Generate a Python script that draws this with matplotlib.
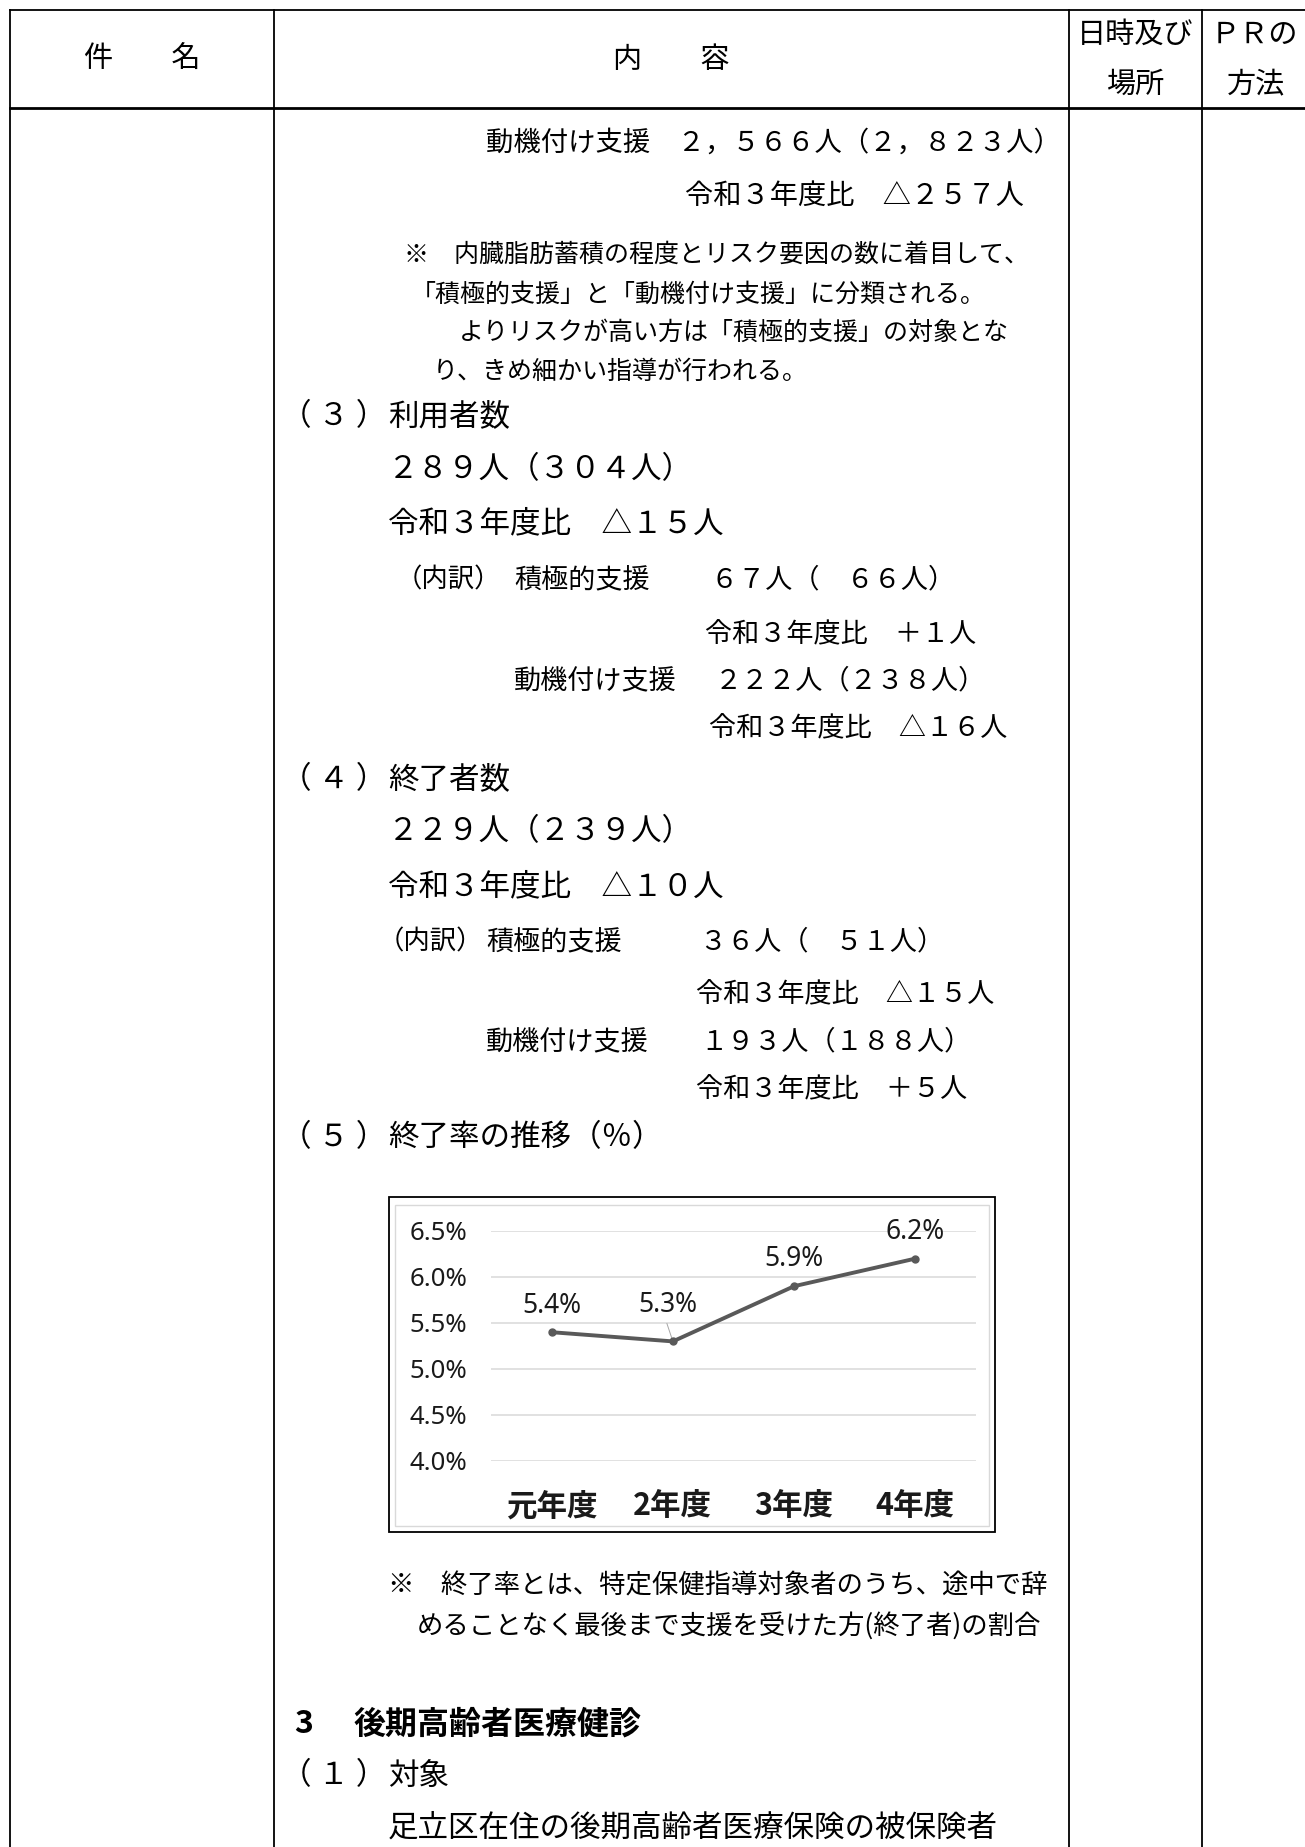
import matplotlib
matplotlib.use("Agg")
import matplotlib.pyplot as plt
from matplotlib.patches import Rectangle

plt.rcParams['font.family'] = ['Noto Sans CJK JP', 'DejaVu Sans']

# ---- chart data ----
categories = ['元年度', '2年度', '3年度', '4年度']
rates = [5.4, 5.3, 5.9, 6.2]
rate_labels = ['5.4%', '5.3%', '5.9%', '6.2%']
yticks = [4.0, 4.5, 5.0, 5.5, 6.0, 6.5]
ytick_labels = ['4.0%', '4.5%', '5.0%', '5.5%', '6.0%', '6.5%']

# ---- header texts ----
header_name = '件　　名'
header_content = '内　　容'
header_date = ['日時及び', '場所']
header_pr = ['ＰＲの', '方法']

W, H = 1305, 1847
fig = plt.figure(figsize=(W / 100, H / 100), dpi=100)
bg = fig.add_axes([0, 0, 1, 1])
bg.set_xlim(0, W)
bg.set_ylim(H, 0)
bg.axis('off')

# ---- table lines ----
lc = 'black'
bg.plot([10, W + 5], [10, 10], color=lc, lw=1.3)
bg.plot([10, W + 5], [108, 108], color=lc, lw=2.0)
for x in [10, 274, 1069, 1202]:
    bg.plot([x, x], [10, H + 5], color=lc, lw=1.3)

# ---- header ----
bg.text(142, 60, header_name, fontsize=21, ha='center', va='center')
bg.text(671, 60, header_content, fontsize=21, ha='center', va='center')
bg.text(1135, 35, header_date[0], fontsize=21, ha='center', va='center')
bg.text(1135, 85, header_date[1], fontsize=21, ha='center', va='center')
bg.text(1254, 35, header_pr[0], fontsize=21, ha='center', va='center')
bg.text(1256, 85, header_pr[1], fontsize=21, ha='center', va='center')

# ---- body text ----
def t(x, y, s, size, **kw):
    bg.text(x, y, s, fontsize=size, ha='left', va='center', **kw)

t(486, 143, '動機付け支援　２，５６６人（２，８２３人）', 19.7)
t(685, 196, '令和３年度比　△２５７人', 20.3)
t(404, 255, '※　内臓脂肪蓄積の程度とリスク要因の数に着目して、', 18)
t(411, 295, '「積極的支援」と「動機付け支援」に分類される。', 18)
t(459, 333, 'よりリスクが高い方は「積極的支援」の対象とな', 18)
t(433, 372, 'り、きめ細かい指導が行われる。', 18)

t(281, 417, '（ ３ ）', 22)
t(388, 417, '利用者数', 22)
t(388, 470, '２８９人（３０４人）', 22)
t(388, 524, '令和３年度比　△１５人', 22)
t(396, 580, '（内訳）', 19)
t(514, 580, '積極的支援', 19.5)
t(711, 580, '６７人（　６６人）', 19.5)
t(705, 635, '令和３年度比　＋１人', 19.5)
t(514, 681, '動機付け支援', 19.5)
t(715, 681, '２２２人（２３８人）', 19.5)
t(709, 729, '令和３年度比　△１６人', 19.5)

t(281, 780, '（ ４ ）', 22)
t(388, 780, '終了者数', 22)
t(388, 832, '２２９人（２３９人）', 22)
t(388, 887, '令和３年度比　△１０人', 22)
t(378, 942, '（内訳）', 19)
t(486, 942, '積極的支援', 19.5)
t(700, 942, '３６人（　５１人）', 19.5)
t(696, 995, '令和３年度比　△１５人', 19.5)
t(486, 1042, '動機付け支援', 19.5)
t(700, 1042, '１９３人（１８８人）', 19.5)
t(696, 1090, '令和３年度比　＋５人', 19.5)

t(281, 1138, '（ ５ ）', 22)
t(388, 1138, '終了率の推移（％）', 22)

t(388, 1586, '※　終了率とは、特定保健指導対象者のうち、途中で辞', 19)
t(417, 1626, 'めることなく最後まで支援を受けた方(終了者)の割合', 19)

t(294, 1724, '3', 23, fontweight='bold')
t(354, 1724, '後期高齢者医療健診', 23, fontweight='bold')
t(281, 1776, '（ １ ）', 22)
t(388, 1776, '対象', 22)
t(388, 1828, '足立区在住の後期高齢者医療保険の被保険者', 22)

# ---- chart box ----
bg.add_patch(Rectangle((389, 1197), 606, 335, facecolor='white',
                       edgecolor='black', lw=1.3, zorder=2))
bg.add_patch(Rectangle((395, 1205), 594, 321, facecolor='none',
                       edgecolor='#d9d9d9', lw=1.0, zorder=3))

# ---- line chart ----
ax_l, ax_r, ax_t, ax_b = 491, 976, 1231, 1461
ax = fig.add_axes([ax_l / W, 1 - ax_b / H, (ax_r - ax_l) / W, (ax_b - ax_t) / H])
ax.set_facecolor('none')
ax.set_zorder(5)
xs = list(range(len(categories)))
ax.plot(xs, rates, color='#595959', lw=2.8, marker='o', markersize=5,
        markerfacecolor='#595959', markeredgecolor='#595959', zorder=4,
        solid_capstyle='round')
ax.set_xlim(-0.5, len(categories) - 0.5)
ax.set_ylim(yticks[0], yticks[-1])
ax.set_yticks(yticks)
ax.set_yticklabels(ytick_labels, family=['Noto Sans', 'DejaVu Sans'],
                   fontsize=18.5, color='#1a1a1a')
ax.set_xticks(xs)
ax.set_xticklabels(categories, fontsize=22, fontweight='bold', color='#1a1a1a')
ax.tick_params(axis='y', length=0, pad=17)
ax.tick_params(axis='x', length=0, pad=21)
ax.grid(axis='y', color='#d9d9d9', lw=1.1)
ax.set_axisbelow(True)
for s in ax.spines.values():
    s.set_visible(False)

offsets = [(0, 26), (-5, 36), (0, 27), (0, 27)]
for i, (v, lab) in enumerate(zip(rates, rate_labels)):
    dx, dy = offsets[i]
    ax.annotate(lab, xy=(i, v), xytext=(dx, dy), textcoords='offset pixels',
                ha='center', va='center', fontsize=19,
                family=['Noto Sans', 'DejaVu Sans'], color='#1a1a1a')
# leader line for the 5.3% label
ax.annotate('', xy=(1, rates[1]), xytext=(-6, 18), textcoords='offset pixels',
            xycoords='data',
            arrowprops=dict(arrowstyle='-', color='#a6a6a6', lw=0.7,
                            shrinkA=0, shrinkB=2))

fig.savefig('out.png', dpi=100)
